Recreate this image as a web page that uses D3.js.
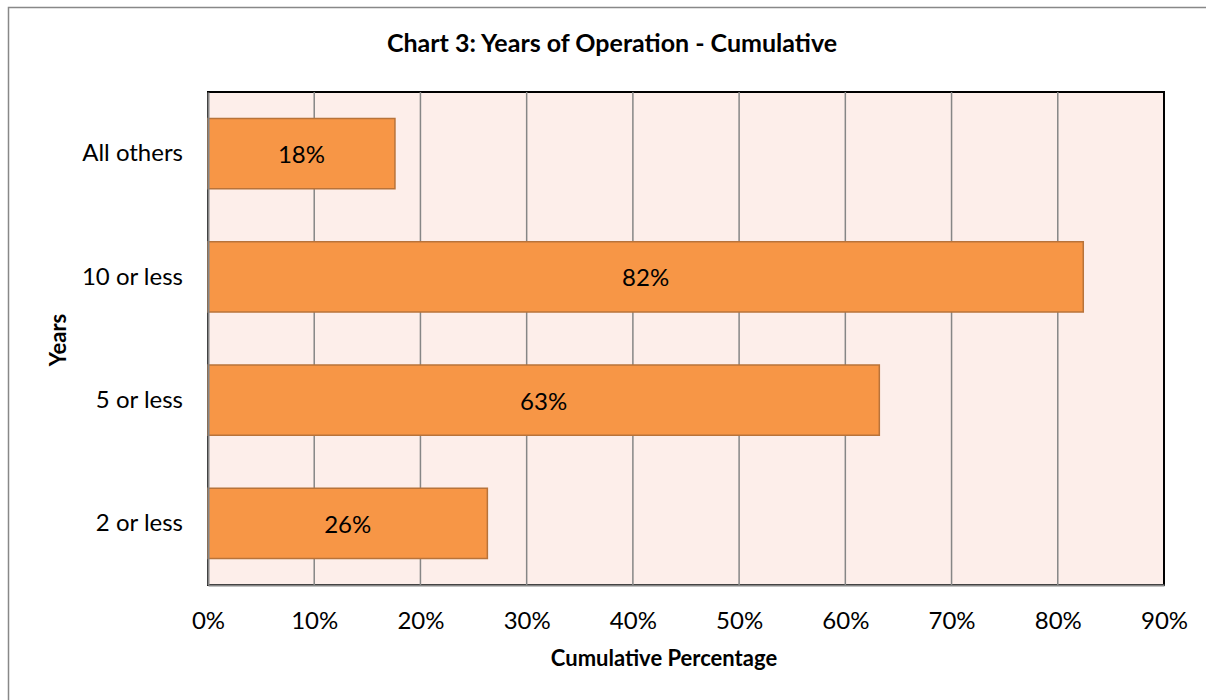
<!DOCTYPE html>
<html>
<head>
<meta charset="utf-8">
<script src="https://cdn.jsdelivr.net/npm/d3@7"></script>
<style>
  body { margin: 0; background: #fff; }
  svg text { font-family: Lato, "Open Sans", sans-serif; fill: #000; }
</style>
</head>
<body>
<script>
// chart data
var categories = ["All others", "10 or less", "5 or less", "2 or less"];
var values = [17.6, 82.4, 63.2, 26.3];
var xTicks = [0, 10, 20, 30, 40, 50, 60, 70, 80, 90];

var w = 1206, h = 700;
var plotLeft = 208, plotRight = 1164, plotTop = 92, plotBottom = 585;

var svg = d3.select("body").append("svg")
  .attr("width", w)
  .attr("height", h);

// outer chart border
svg.append("rect")
  .attr("x", 8.5).attr("y", 7.5)
  .attr("width", w).attr("height", h)
  .attr("fill", "#fff")
  .attr("stroke", "#888")
  .attr("stroke-width", 1.5);

var x = d3.scaleLinear().domain([0, 90]).range([plotLeft, plotRight]);
var y = d3.scaleBand().domain(categories).range([plotTop, plotBottom])
  .paddingInner(0.43).paddingOuter(0.215);

// plot area
svg.append("rect")
  .attr("x", plotLeft).attr("y", plotTop)
  .attr("width", plotRight - plotLeft).attr("height", plotBottom - plotTop)
  .attr("fill", "#FDEEEA")
  .attr("stroke", "#000")
  .attr("stroke-width", 2);

// gridlines
svg.append("g").selectAll("line").data(xTicks.slice(1, -1)).enter().append("line")
  .attr("x1", d => x(d)).attr("x2", d => x(d))
  .attr("y1", plotTop).attr("y2", plotBottom)
  .attr("stroke", "#868686")
  .attr("stroke-width", 1.5);

// bars
svg.append("g").selectAll("rect").data(values).enter().append("rect")
  .attr("x", x(0))
  .attr("y", (d, i) => y(categories[i]))
  .attr("width", d => x(d) - x(0))
  .attr("height", y.bandwidth())
  .attr("fill", "#F79646")
  .attr("stroke", "#B8733A")
  .attr("stroke-width", 1.5);

// bar labels
svg.append("g").selectAll("text").data(values).enter().append("text")
  .attr("x", d => (x(0) + x(d)) / 2)
  .attr("y", (d, i) => y(categories[i]) + y.bandwidth() / 2)
  .attr("text-anchor", "middle")
  .attr("dominant-baseline", "central")
  .style("font-size", "24px")
  .text(d => Math.round(d) + "%");

// axes
var xAxis = d3.axisBottom(x).tickValues(xTicks).tickFormat(d => d + "%").tickSize(0).tickPadding(27);
var gx = svg.append("g").attr("transform", "translate(0," + plotBottom + ")").call(xAxis);
gx.select(".domain").attr("stroke", "#868686").attr("stroke-width", 2);
gx.selectAll("text").style("font-size", "24px").style("font-family", "Lato, 'Open Sans', sans-serif");

var yAxis = d3.axisLeft(y).tickSize(0).tickPadding(25);
var gy = svg.append("g").attr("transform", "translate(" + plotLeft + ",0)").call(yAxis);
gy.select(".domain").attr("stroke", "#868686").attr("stroke-width", 2);
gy.selectAll("text").style("font-size", "24px").style("font-family", "Lato, 'Open Sans', sans-serif");

// titles
svg.append("text")
  .attr("x", 612).attr("y", 52)
  .attr("text-anchor", "middle")
  .style("font-size", "25px").style("font-weight", "bold")
  .text("Chart 3: Years of Operation - Cumulative");

svg.append("text")
  .attr("x", 664).attr("y", 666)
  .attr("text-anchor", "middle")
  .style("font-size", "22px").style("font-weight", "bold")
  .text("Cumulative Percentage");

svg.append("text")
  .attr("transform", "translate(66,340) rotate(-90)")
  .attr("text-anchor", "middle")
  .style("font-size", "22px").style("font-weight", "bold")
  .text("Years");
</script>
</body>
</html>
